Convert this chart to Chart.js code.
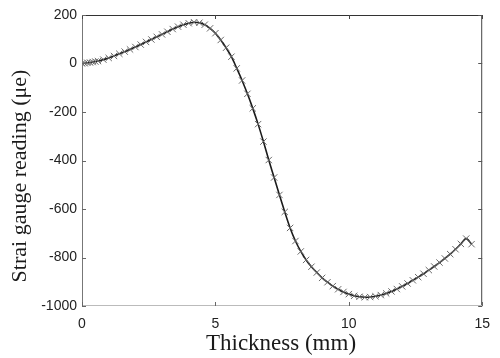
<!DOCTYPE html>
<html>
<head>
<meta charset="utf-8">
<script src="https://cdn.jsdelivr.net/npm/chart.js@4/dist/chart.umd.min.js"></script>
<style>
  html, body { margin: 0; padding: 0; background: #fff; }
  #wrap { width: 500px; height: 358px; }
</style>
</head>
<body>
<div id="wrap"><canvas id="strain-chart" width="500" height="358"></canvas></div>
<script>
// Espessura (mm) e leitura do extensômetro (με)
const thickness = [0, 0.1, 0.2, 0.3, 0.4, 0.5, 0.6, 0.8, 1.0, 1.2, 1.4, 1.6, 1.8, 2.0, 2.2, 2.4, 2.6, 2.8,
  3.0, 3.2, 3.4, 3.6, 3.8, 4.0, 4.2, 4.4, 4.6, 4.8, 5.0, 5.2, 5.4, 5.6, 5.8, 6.0, 6.2, 6.4, 6.6, 6.8,
  7.0, 7.2, 7.4, 7.6, 7.8, 8.0, 8.2, 8.4, 8.6, 8.8, 9.0, 9.2, 9.4, 9.6, 9.8, 10.0, 10.2, 10.4, 10.6, 10.8,
  11.0, 11.2, 11.4, 11.6, 11.8, 12.0, 12.2, 12.4, 12.6, 12.8, 13.0, 13.2, 13.4, 13.6, 13.8, 14.0, 14.2, 14.4, 14.6];
const strain = [0, 1, 3, 4, 6, 8, 10, 16, 23, 31, 40, 49, 58, 68, 78, 89, 99, 110,
  120, 131, 142, 152, 160, 166, 170, 168, 160, 145, 125, 97, 65, 28, -20, -70, -125, -185, -250, -322,
  -398, -470, -542, -612, -678, -732, -775, -810, -838, -862, -884, -902, -918, -931, -942, -951, -958, -962, -964, -963,
  -960, -955, -948, -940, -930, -919, -907, -894, -881, -867, -852, -837, -821, -804, -786, -766, -744, -722, -745];

// Ticks dos eixos
const xTicks = [0, 5, 10, 15];
const yTicks = [-1000, -800, -600, -400, -200, 0, 200];

const xTitle = 'Thickness (mm)';
const yTitle = 'Strai gauge reading (μe)';

// Moldura fechada com ticks para dentro e títulos dos eixos
const framePlugin = {
    id: 'frame',
    afterDraw(chart) {
        const { ctx, chartArea: a, scales: { x, y } } = chart;
        ctx.save();
        ctx.lineWidth = 1;
        const line = (x1, y1, x2, y2, color) => {
            ctx.strokeStyle = color;
            ctx.beginPath();
            ctx.moveTo(x1, y1);
            ctx.lineTo(x2, y2);
            ctx.stroke();
        };
        line(a.left, a.top + 0.5, a.right, a.top + 0.5, '#333');
        line(a.right - 0.5, a.top, a.right - 0.5, a.bottom, '#444');
        line(a.left + 0.5, a.top, a.left + 0.5, a.bottom, '#777');
        line(a.left, a.bottom - 0.5, a.right, a.bottom - 0.5, '#bbb');

        xTicks.forEach(v => {
            const px = Math.round(x.getPixelForValue(v)) + 0.5;
            line(px, a.bottom, px, a.bottom - 4, '#666');
            line(px, a.top, px, a.top + 4, '#444');
        });
        yTicks.forEach(v => {
            const py = Math.round(y.getPixelForValue(v)) + 0.5;
            line(a.left, py, a.left + 4, py, '#666');
            line(a.right, py, a.right - 4, py, '#555');
        });

        ctx.fillStyle = '#1a1a1a';
        ctx.font = '23px "Liberation Serif", "Times New Roman", serif';
        ctx.textAlign = 'center';
        ctx.textBaseline = 'middle';
        ctx.fillText(xTitle, 281, 344);

        ctx.translate(20, 176);
        ctx.rotate(-Math.PI / 2);
        ctx.font = '22px "Liberation Serif", "Times New Roman", serif';
        ctx.fillText(yTitle, 0, 0);
        ctx.restore();
    }
};

const tickFont = { family: '"Liberation Sans", Arial, sans-serif', size: 14 };

const ctx = document.getElementById('strain-chart').getContext('2d');
const chart = new Chart(ctx, {
    type: 'scatter',
    data: {
        datasets: [{
            label: 'Strain',
            data: thickness.map((t, i) => ({ x: t, y: strain[i] })),
            showLine: true,
            cubicInterpolationMode: 'monotone',
            borderColor: '#1c1c1c',
            borderWidth: 1.6,
            pointStyle: 'crossRot',
            pointRadius: 4.5,
            pointBorderWidth: 1,
            pointBorderColor: '#6a6a6a',
            pointBackgroundColor: '#6a6a6a'
        }]
    },
    options: {
        responsive: false,
        animation: false,
        layout: { padding: { left: 0, right: 9, top: 15, bottom: 0 } },
        plugins: {
            legend: { display: false },
            tooltip: { enabled: false }
        },
        scales: {
            x: {
                type: 'linear',
                min: 0,
                max: 15,
                afterFit: s => { s.height = 52; },
                afterBuildTicks: s => { s.ticks = xTicks.map(v => ({ value: v })); },
                grid: { display: false, drawTicks: false, tickLength: 0 },
                border: { display: false },
                ticks: {
                    padding: 10,
                    color: '#222',
                    font: tickFont,
                    callback: v => String(v)
                }
            },
            y: {
                type: 'linear',
                min: -1000,
                max: 200,
                afterFit: s => { s.width = 82; },
                afterBuildTicks: s => { s.ticks = yTicks.map(v => ({ value: v })); },
                grid: { display: false, drawTicks: false, tickLength: 0 },
                border: { display: false },
                ticks: {
                    padding: 5,
                    color: '#222',
                    font: tickFont,
                    callback: v => String(v)
                }
            }
        }
    },
    plugins: [framePlugin]
});
</script>
</body>
</html>
